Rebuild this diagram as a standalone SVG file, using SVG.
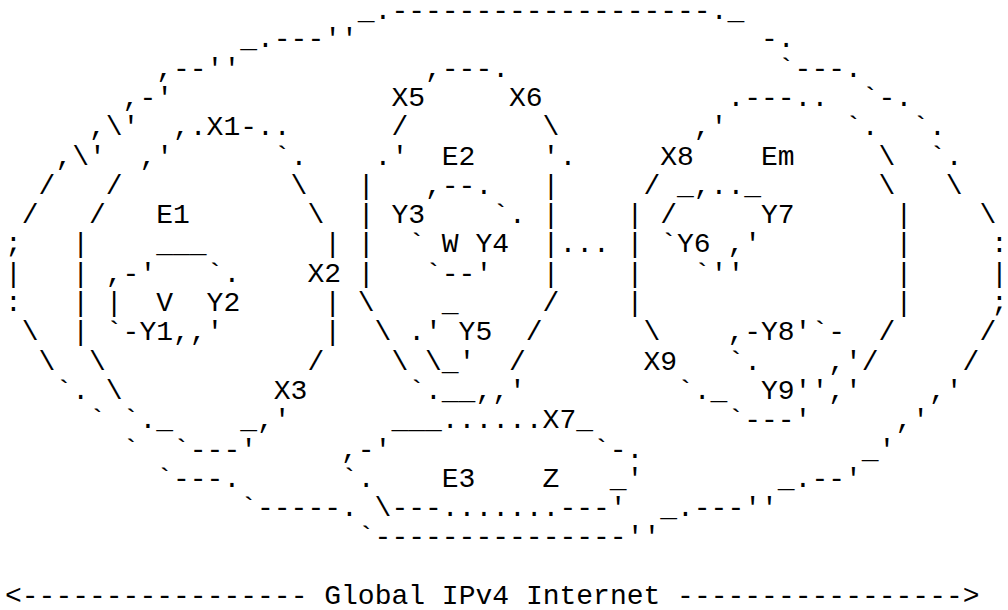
<svg xmlns="http://www.w3.org/2000/svg" width="1008" height="610" viewBox="0 0 1008 610">
<style>
text{font-family:"Liberation Mono","DejaVu Sans Mono",monospace;font-size:28px;fill:#000;white-space:pre}
</style>
<rect width="1008" height="610" fill="#fff"/>
<g id="ascii-art" xml:space="preserve">
<text y="19"><tspan x="357.8">_.-------------------._</tspan></text>
<text y="47.3"><tspan x="240.2">_.---''</tspan><tspan x="761">-.</tspan></text>
<text y="76.6"><tspan x="156.2">,--''</tspan><tspan x="425">,---.</tspan><tspan x="777.8">`---.</tspan></text>
<text y="105.9"><tspan x="122.6">,-'</tspan><tspan x="391.4">X5</tspan><tspan x="509">X6</tspan><tspan x="727.4">.---..</tspan><tspan x="861.8">`-.</tspan></text>
<text y="135.2"><tspan x="89">,\'</tspan><tspan x="173">,.X1-..</tspan><tspan x="391.4">/</tspan><tspan x="542.6">\</tspan><tspan x="693.8">,'</tspan><tspan x="845">`.</tspan><tspan x="912.2">`.</tspan></text>
<text y="164.5"><tspan x="55.4">,\'</tspan><tspan x="139.4">,'</tspan><tspan x="273.8">`.</tspan><tspan x="374.6">.'</tspan><tspan x="441.8">E2</tspan><tspan x="542.6">'.</tspan><tspan x="660.2">X8</tspan><tspan x="761">Em</tspan><tspan x="878.6">\</tspan><tspan x="929">`.</tspan></text>
<text y="193.8"><tspan x="38.6">/</tspan><tspan x="105.8">/</tspan><tspan x="290.6">\</tspan><tspan x="357.8">|</tspan><tspan x="425">,--.</tspan><tspan x="542.6">|</tspan><tspan x="643.4">/</tspan><tspan x="677">_,.._</tspan><tspan x="878.6">\</tspan><tspan x="945.8">\</tspan></text>
<text y="223.1"><tspan x="21.8">/</tspan><tspan x="89">/</tspan><tspan x="156.2">E1</tspan><tspan x="307.4">\</tspan><tspan x="357.8">|</tspan><tspan x="391.4">Y3</tspan><tspan x="492.2">`.</tspan><tspan x="542.6">|</tspan><tspan x="626.6">|</tspan><tspan x="660.2">/</tspan><tspan x="761">Y7</tspan><tspan x="895.4">|</tspan><tspan x="979.4">\</tspan></text>
<text y="252.4"><tspan x="5">;</tspan><tspan x="72.2">|</tspan><tspan x="156.2">___</tspan><tspan x="324.2">|</tspan><tspan x="357.8">|</tspan><tspan x="408.2">`</tspan><tspan x="441.8">W</tspan><tspan x="475.4">Y4</tspan><tspan x="542.6">|...</tspan><tspan x="626.6">|</tspan><tspan x="660.2">`Y6</tspan><tspan x="727.4">,'</tspan><tspan x="895.4">|</tspan><tspan x="991">:</tspan></text>
<text y="281.7"><tspan x="5">|</tspan><tspan x="72.2">|</tspan><tspan x="105.8">,-'</tspan><tspan x="206.6">`.</tspan><tspan x="307.4">X2</tspan><tspan x="357.8">|</tspan><tspan x="425">`--'</tspan><tspan x="542.6">|</tspan><tspan x="626.6">|</tspan><tspan x="693.8">`''</tspan><tspan x="895.4">|</tspan><tspan x="991">|</tspan></text>
<text y="311"><tspan x="5">:</tspan><tspan x="72.2">|</tspan><tspan x="105.8">|</tspan><tspan x="156.2">V</tspan><tspan x="206.6">Y2</tspan><tspan x="324.2">|</tspan><tspan x="357.8">\</tspan><tspan x="441.8">_</tspan><tspan x="542.6">/</tspan><tspan x="626.6">|</tspan><tspan x="895.4">|</tspan><tspan x="991">;</tspan></text>
<text y="340.3"><tspan x="21.8">\</tspan><tspan x="72.2">|</tspan><tspan x="105.8">`-Y1,,'</tspan><tspan x="324.2">|</tspan><tspan x="374.6">\</tspan><tspan x="408.2">.'</tspan><tspan x="458.6">Y5</tspan><tspan x="525.8">/</tspan><tspan x="643.4">\</tspan><tspan x="727.4">,-Y8'`-</tspan><tspan x="878.6">/</tspan><tspan x="979.4">/</tspan></text>
<text y="369.6"><tspan x="38.6">\</tspan><tspan x="89">\</tspan><tspan x="307.4">/</tspan><tspan x="391.4">\</tspan><tspan x="425">\_'</tspan><tspan x="509">/</tspan><tspan x="643.4">X9</tspan><tspan x="727.4">`.</tspan><tspan x="828.2">,'/</tspan><tspan x="962.6">/</tspan></text>
<text y="398.9"><tspan x="55.4">`.</tspan><tspan x="105.8">\</tspan><tspan x="273.8">X3</tspan><tspan x="408.2">`.__,,'</tspan><tspan x="677">`._</tspan><tspan x="761">Y9'','</tspan><tspan x="929">,'</tspan></text>
<text y="428.2"><tspan x="89">`</tspan><tspan x="122.6">`._</tspan><tspan x="240.2">_,'</tspan><tspan x="391.4">___......X7_</tspan><tspan x="727.4">`---'</tspan><tspan x="895.4">,'</tspan></text>
<text y="457.5"><tspan x="122.6">`</tspan><tspan x="173">`---'</tspan><tspan x="341">,-'</tspan><tspan x="593">`-.</tspan><tspan x="861.8">_'</tspan></text>
<text y="486.8"><tspan x="156.2">`---.</tspan><tspan x="341">`.</tspan><tspan x="441.8">E3</tspan><tspan x="542.6">Z</tspan><tspan x="609.8">_'</tspan><tspan x="777.8">_.--'</tspan></text>
<text y="516.1"><tspan x="240.2">`-----.</tspan><tspan x="374.6">\---.......---'</tspan><tspan x="660.2">_.---''</tspan></text>
<text y="545.4"><tspan x="357.8">`---------------''</tspan></text>
<text y="604"><tspan x="5">&lt;----------------- Global IPv4 Internet -----------------&gt;</tspan></text>
</g>
</svg>
